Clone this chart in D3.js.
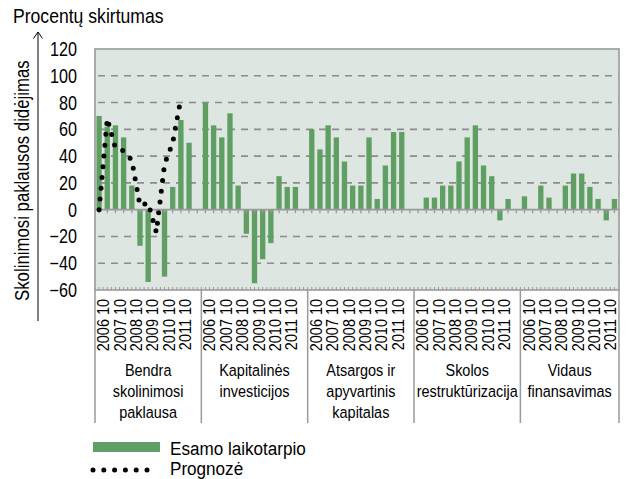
<!DOCTYPE html>
<html>
<head>
<meta charset="utf-8">
<script src="https://cdn.jsdelivr.net/npm/d3@7"></script>
<style>
  body { margin: 0; background: #fff; }
  text { font-family: "Liberation Sans", Arial, sans-serif; fill: #000; }
</style>
</head>
<body>
<div id="chart-area"></div>
<script>
// category structure
var groupLines = [
  ["Bendra", "skolinimosi", "paklausa"],
  ["Kapitalinės", "investicijos"],
  ["Atsargos ir", "apyvartinis", "kapitalas"],
  ["Skolos", "restruktūrizacija"],
  ["Vidaus", "finansavimas"]
];
var periods = ["2006 04", "2006 10", "2007 04", "2007 10", "2008 04", "2008 10",
  "2009 04", "2009 10", "2010 04", "2010 10", "2011 04", "2011 10", "2012 04"];
var yearLabels = ["2006 10", "2007 10", "2008 10", "2009 10", "2010 10", "2011 10"];
var yTicks = [-60, -40, -20, 0, 20, 40, 60, 80, 100, 120];

// series values (one row per group, one value per period)
var esamo = [
  [70, 62, 63, 54, 18, -27, -54, 0, -50, 17, 67, 50, null],
  [80, 63, 54, 72, 18, -18, -55, -37, -25, 25, 17, 17, null],
  [60, 45, 63, 54, 36, 18, 18, 54, 8, 33, 58, 58, null],
  [null, 9, 9, 18, 18, 36, 54, 63, 33, 25, -8, 8, null],
  [10, null, 18, 9, null, 18, 27, 27, 17, 8, -8, 8, null]
];
var prognoze = [0, 68, 46, 44, 37, 3, 5, -17, 34, 50, 83];

var svgWidth = 632, svgHeight = 479;
var plot = { left: 95, right: 619, top: 49, bottom: 290 };
var green = "#609f63";
var grey = "#9a9a9a";

var svg = d3.select("#chart-area").append("svg")
  .attr("width", svgWidth)
  .attr("height", svgHeight);

function addText(g, x, y, str, size, k, anchor, rotate) {
  return g.append("text")
    .attr("transform", "translate(" + x + "," + y + ")" + (rotate ? " rotate(-90)" : "") + " scale(" + k + ",1)")
    .attr("text-anchor", anchor)
    .style("font-size", size + "px")
    .text(str);
}

// one band per period in every group
var keys = [];
groupLines.forEach(function(g, gi) {
  periods.forEach(function(p) { keys.push(gi + "|" + p); });
});
var step = 8.18;
var xs = d3.scaleBand()
  .domain(keys)
  .range([plot.left, plot.left + keys.length * step])
  .paddingInner(0.35)
  .paddingOuter(0.175);
var bw = xs.bandwidth();
var groupW = periods.length * xs.step();

var y = d3.scaleLinear()
  .domain([-60, 120])
  .range([plot.bottom, plot.top]);

svg.append("clipPath").attr("id", "clip")
  .append("rect")
  .attr("x", plot.left).attr("y", plot.top)
  .attr("width", plot.right - plot.left).attr("height", plot.bottom - plot.top);

// plot background
svg.append("rect")
  .attr("x", plot.left).attr("y", plot.top)
  .attr("width", plot.right - plot.left).attr("height", plot.bottom - plot.top)
  .attr("fill", "#dde6e0");

// gridlines
svg.append("g")
  .selectAll("line")
  .data(yTicks.filter(function(d) { return d != 0 && d != -60 && d != 120; }))
  .join("line")
    .attr("x1", plot.left + 3).attr("x2", plot.right)
    .attr("y1", d => y(d)).attr("y2", d => y(d))
    .attr("stroke", "#8c8c8c")
    .attr("stroke-width", 1.6)
    .attr("stroke-dasharray", "7,6");

var inner = svg.append("g").attr("clip-path", "url(#clip)");

// bars
var barData = [];
esamo.forEach(function(row, gi) {
  row.forEach(function(v, pi) {
    if (v !== null) barData.push({ key: gi + "|" + periods[pi], value: v });
  });
});
inner.selectAll(".bar")
  .data(barData)
  .join("rect")
    .attr("class", "bar")
    .attr("x", d => xs(d.key))
    .attr("width", bw)
    .attr("y", d => y(Math.max(0, d.value)))
    .attr("height", d => Math.abs(y(d.value) - y(0)))
    .attr("fill", green);

// zero line and ticks
inner.append("line")
  .attr("x1", plot.left).attr("x2", plot.right)
  .attr("y1", y(0)).attr("y2", y(0))
  .attr("stroke", grey).attr("stroke-width", 1.6);
inner.append("g").selectAll("line")
  .data(keys)
  .join("line")
    .attr("x1", d => xs(d) + bw / 2).attr("x2", d => xs(d) + bw / 2)
    .attr("y1", y(0)).attr("y2", y(0) + 3.5)
    .attr("stroke", grey).attr("stroke-width", 1.3);

// bottom ticks every half period
var halfTicks = [];
keys.forEach(function(k) {
  halfTicks.push(xs(k) + bw / 2);
  halfTicks.push(xs(k) - xs.step() * xs.paddingInner() / 2);
});
inner.append("g").selectAll("line")
  .data(halfTicks)
  .join("line")
    .attr("x1", d => d).attr("x2", d => d)
    .attr("y1", plot.bottom).attr("y2", plot.bottom - 3)
    .attr("stroke", grey).attr("stroke-width", 1);

// forecast dotted line
var line = d3.line()
  .x((d, i) => xs("0|" + periods[i]) + bw / 2)
  .y(d => y(d));
inner.append("path")
  .datum(prognoze)
  .attr("d", line)
  .attr("fill", "none")
  .attr("stroke", "#000")
  .attr("stroke-width", 5)
  .attr("stroke-linecap", "round")
  .attr("stroke-dasharray", "0,10.8");

// plot border
svg.append("rect")
  .attr("x", plot.left).attr("y", plot.top)
  .attr("width", plot.right - plot.left).attr("height", plot.bottom - plot.top)
  .attr("fill", "none")
  .attr("stroke", grey).attr("stroke-width", 1.6);

// group separators under the plot
var seps = groupLines.map((g, gi) => plot.left + gi * groupW).concat([plot.right]);
svg.append("g").selectAll("line")
  .data(seps)
  .join("line")
    .attr("x1", d => d).attr("x2", d => d)
    .attr("y1", plot.bottom).attr("y2", 423)
    .attr("stroke", grey).attr("stroke-width", 1.5);

// year labels, rotated
var labG = svg.append("g");
groupLines.forEach(function(g, gi) {
  yearLabels.forEach(function(lab) {
    var k = gi + "|" + lab;
    var lx = xs(k) - xs.step() * xs.paddingInner() / 2;
    if (lx > plot.right) return;
    addText(labG, lx, 299, lab, 17, 0.85, "end", true).attr("dy", "0.35em");
  });
  // group name, centred on the visible part
  var x0 = plot.left + gi * groupW;
  var x1 = Math.min(x0 + groupW, plot.right);
  g.forEach(function(ln, li) {
    addText(labG, (x0 + x1) / 2, 376 + li * 20.8, ln, 17, 0.85, "middle", false);
  });
});

// y tick labels
svg.append("g").selectAll("text")
  .data(yTicks)
  .join("text")
    .attr("transform", d => "translate(77," + (y(d) + 7) + ") scale(0.83,1)")
    .attr("text-anchor", "end")
    .style("font-size", "19.5px")
    .text(d => d3.format("d")(d));

// titles and arrow
addText(svg, 13, 23, "Procentų skirtumas", 20, 0.88, "start", false);
addText(svg, 29, 301, "Skolinimosi paklausos didėjimas", 20, 0.84, "start", true);
svg.append("line")
  .attr("x1", 38).attr("x2", 38).attr("y1", 32).attr("y2", 321)
  .attr("stroke", "#000").attr("stroke-width", 1);
svg.append("path")
  .attr("d", "M33.5,38.5 L38,32 L42.5,38.5")
  .attr("fill", "none").attr("stroke", "#000").attr("stroke-width", 1);

// legend
svg.append("rect")
  .attr("x", 93).attr("y", 442).attr("width", 67).attr("height", 10)
  .attr("fill", green);
addText(svg, 170, 455, "Esamo laikotarpio", 19, 0.9, "start", false);
svg.append("line")
  .attr("x1", 93).attr("x2", 150).attr("y1", 470).attr("y2", 470)
  .attr("stroke", "#000").attr("stroke-width", 5)
  .attr("stroke-linecap", "round").attr("stroke-dasharray", "0,10.8");
addText(svg, 170, 475, "Prognozė", 19, 0.9, "start", false);
</script>
</body>
</html>
